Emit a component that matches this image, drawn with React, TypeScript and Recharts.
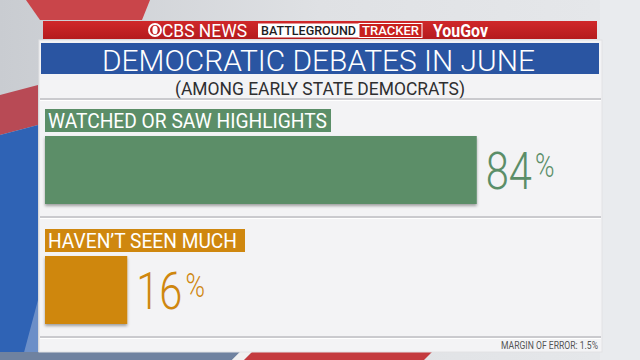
import { BarChart, Bar, XAxis, YAxis } from 'recharts'

// survey answers, CBS News / YouGov battleground tracker
const CATEGORIES = ['WATCHED OR SAW HIGHLIGHTS', 'HAVEN\u2019T SEEN MUCH']
const VALUES = [84, 16]

const COLORS = ['#5b8e68', '#cf870f']
// label tab widths (box, text) per row
const TAB_W = [286, 200]
const TAB_TEXT_W = [279, 189]

const data = CATEGORIES.map((name, i) => ({ name, value: VALUES[i] }))

const FONT = 'Roboto, "Open Sans", sans-serif'

function RowShape(props: any) {
  const { x, y, width, height, index } = props
  const i = index ?? 0
  const color = COLORS[i]
  const value = props.payload?.value ?? props.value
  return (
    <g>
      <rect x={x} y={y - 27} width={TAB_W[i]} height={23} fill={color} />
      <text
        x={x + 3}
        y={y - 8}
        fontSize={20}
        fontFamily={FONT}
        fill="#fff"
        textLength={TAB_TEXT_W[i]}
        lengthAdjust="spacingAndGlyphs"
      >
        {CATEGORIES[i]}
      </text>
      <rect x={x} y={y} width={width} height={height} fill={color} filter="url(#barShadow)" />
      <g transform={`translate(${x + width + 9}, ${y + 53}) scale(0.8, 1)`}>
        <text x={0} y={0} fontSize={52} fontWeight={300} fontFamily={FONT} fill={color}>
          {value}
          <tspan fontSize={33} dx={4} dy={-12}>%</tspan>
        </text>
      </g>
    </g>
  )
}

function Backdrop() {
  return (
    <svg width={640} height={360} style={{ position: 'absolute', left: 0, top: 0 }}>
      <defs>
        <linearGradient id="bg" x1="0" y1="0" x2="1" y2="0">
          <stop offset="0" stopColor="#c9ccd1" />
          <stop offset="0.5" stopColor="#dfe1e4" />
          <stop offset="1" stopColor="#e6e8eb" />
        </linearGradient>
        <linearGradient id="hdr" x1="0" y1="0" x2="0" y2="1">
          <stop offset="0" stopColor="#d0282a" />
          <stop offset="1" stopColor="#b51b1d" />
        </linearGradient>
      </defs>
      <rect width={640} height={360} fill="url(#bg)" />
      {/* broadcast backdrop stripes */}
      <polygon points="26,0 150,0 142,20 40,20" fill="#c9454a" />
      <polygon points="0,95 38,85 38,125 0,135" fill="#b84a55" />
      <polygon points="0,135 38,125 38,360 0,360" fill="#2f63b5" />
      <polygon points="22,360 38,300 38,360" fill="#6c8fc8" />
      <polygon points="0,352 240,352 232,360 0,360" fill="#6f82a0" />
      <polygon points="240,352 252,352 244,360 232,360" fill="#f0f0f0" />
      <polygon points="252,352 432,352 424,360 244,360" fill="#c43a3e" />
      <rect x={600} y={0} width={40} height={360} fill="#e9ebee" />

      {/* panel */}
      <rect x={39} y={40} width={563} height={312} fill="#f3f3f5" stroke="#e2e2e4" />

      {/* header strip */}
      <rect x={43} y={21} width={554} height={18} fill="url(#hdr)" />
      <circle cx={155} cy={30} r={6} fill="none" stroke="#fff" strokeWidth={2} />
      <ellipse cx={155} cy={30} rx={2.6} ry={4.2} fill="#fff" />
      <text x={162} y={37} fontSize={18} fontFamily={FONT} fill="#fff" textLength={85} lengthAdjust="spacingAndGlyphs">
        CBS NEWS
      </text>
      <rect x={258} y={23.5} width={101} height={14} fill="#fff" />
      <text x={261} y={35} fontSize={13} fontFamily={FONT} fontWeight={500} fill="#1d1d1f" textLength={95} lengthAdjust="spacingAndGlyphs">
        BATTLEGROUND
      </text>
      <rect x={359} y={23.5} width={63} height={14} fill="#c8201e" stroke="#fff" strokeWidth={1} />
      <text x={362} y={35} fontSize={13} fontFamily={FONT} fontWeight={500} fill="#fff" textLength={57} lengthAdjust="spacingAndGlyphs">
        TRACKER
      </text>
      <text x={433} y={37} fontSize={18} fontFamily={FONT} fontWeight={700} fill="#fff" textLength={55} lengthAdjust="spacingAndGlyphs">
        YouGov
      </text>

      {/* title */}
      <rect x={41} y={43} width={558} height={31} fill="#2a55a2" />
      <text x={318.5} y={70.5} textAnchor="middle" fontSize={30} fontWeight={300} fontFamily={FONT} fill="#fff" textLength={433} lengthAdjust="spacingAndGlyphs">
        DEMOCRATIC DEBATES IN JUNE
      </text>
      <text x={320} y={95} textAnchor="middle" fontSize={18.5} fontFamily={FONT} fill="#2e2e30" textLength={290} lengthAdjust="spacingAndGlyphs">
        (AMONG EARLY STATE DEMOCRATS)
      </text>

      {/* separators */}
      {[99, 217, 337].map((y) => (
        <g key={y}>
          <line x1={40} x2={601} y1={y} y2={y} stroke="#bdbdc0" strokeWidth={1.5} />
          <line x1={40} x2={601} y1={y + 1.5} y2={y + 1.5} stroke="#ffffff" strokeWidth={1} />
        </g>
      ))}

      <text x={598} y={349} textAnchor="end" fontSize={10} fontFamily={FONT} fill="#555" textLength={97} lengthAdjust="spacingAndGlyphs">
        MARGIN OF ERROR: 1.5%
      </text>
    </svg>
  )
}

export default function App() {
  return (
    <div style={{ position: 'absolute', left: 0, top: 0, width: 640, height: 360, overflow: 'hidden' }}>
      <Backdrop />
      <div style={{ position: 'absolute', left: 0, top: 0 }}>
        <BarChart
          width={640}
          height={360}
          data={data}
          layout="vertical"
          margin={{ top: 110, right: 81, bottom: 10, left: 45 }}
        >
          <defs>
            <filter id="barShadow" x="-5%" y="-10%" width="110%" height="130%">
              <feDropShadow dx={0} dy={2} stdDeviation={1.5} floodColor="#000" floodOpacity={0.35} />
            </filter>
          </defs>
          <XAxis type="number" domain={[0, 100]} hide />
          <YAxis type="category" dataKey="name" hide />
          <Bar dataKey="value" barSize={68} shape={RowShape} isAnimationActive={false} />
        </BarChart>
      </div>
    </div>
  )
}
